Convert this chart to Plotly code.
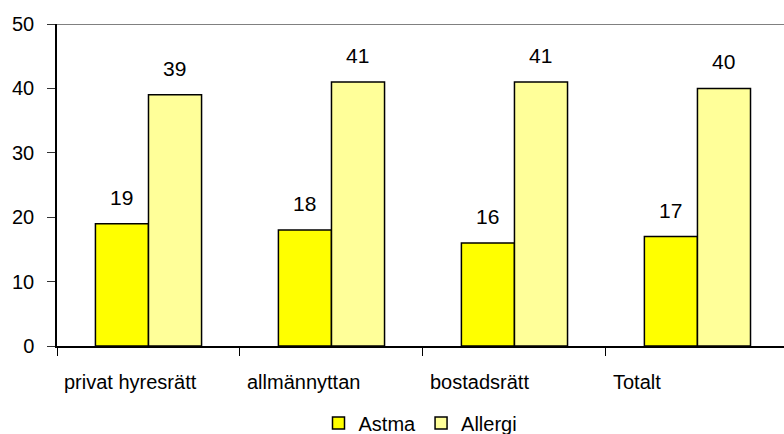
import plotly.graph_objects as go

categories = ["privat hyresrätt", "allmännyttan", "bostadsrätt", "Totalt"]
astma = [19, 18, 16, 17]
allergi = [39, 41, 41, 40]
y_ticks = [0, 10, 20, 30, 40, 50]

FONT = "Liberation Sans, Arial, sans-serif"

fig = go.Figure()
fig.add_trace(go.Bar(name="Astma", x=categories, y=astma,
                     marker=dict(color="#FFFF00", line=dict(color="#000000", width=1.5))))
fig.add_trace(go.Bar(name="Allergi", x=categories, y=allergi,
                     marker=dict(color="#FFFF99", line=dict(color="#000000", width=1.5))))

annotations = []
# value labels above each bar
for series, shift in ((astma, -26.5), (allergi, 26.5)):
    for cat, val in zip(categories, series):
        annotations.append(dict(x=cat, y=val, text=str(val), showarrow=False,
                                xref="x", yref="y", xshift=shift, yanchor="bottom",
                                yshift=13, font=dict(size=21, color="#000")))
# left-aligned category labels under the axis
for i, cat in enumerate(categories):
    annotations.append(dict(x=i - 0.5, y=0, xref="x", yref="y", text=cat,
                            showarrow=False, xanchor="left", yanchor="top",
                            xshift=5, yshift=-23, font=dict(size=20, color="#000")))

fig.update_layout(
    width=784, height=434,
    margin=dict(l=57, r=0, t=24, b=88, autoexpand=False),
    paper_bgcolor="white", plot_bgcolor="white",
    font=dict(family=FONT, size=20, color="#000"),
    barmode="group", bargap=0.42, bargroupgap=0,
    showlegend=True,
    legend=dict(orientation="h", x=0.5, xref="paper", xanchor="center",
                y=-0.239, yref="paper", yanchor="middle", font=dict(size=20),
                itemwidth=30, tracegroupgap=0, bgcolor="rgba(0,0,0,0)"),
    annotations=annotations,
    shapes=[dict(type="line", xref="paper", yref="y", x0=0, x1=1, y0=50, y1=50,
                 line=dict(color="#808080", width=2))],
)
fig.update_xaxes(type="category", range=[-0.5, 3.473], showticklabels=False,
                 ticks="outside", ticklen=8, tickcolor="#000", tickson="boundaries",
                 showline=True, linecolor="#000", linewidth=1.5, showgrid=False,
                 fixedrange=True)
fig.update_yaxes(range=[0, 50], tickvals=y_ticks, ticks="outside", ticklen=8,
                 tickcolor="#333", showline=True, linecolor="#000", linewidth=1.5,
                 showgrid=False, zeroline=False, ticklabelstandoff=9,
                 tickfont=dict(size=20))

fig.write_html("out.html")
